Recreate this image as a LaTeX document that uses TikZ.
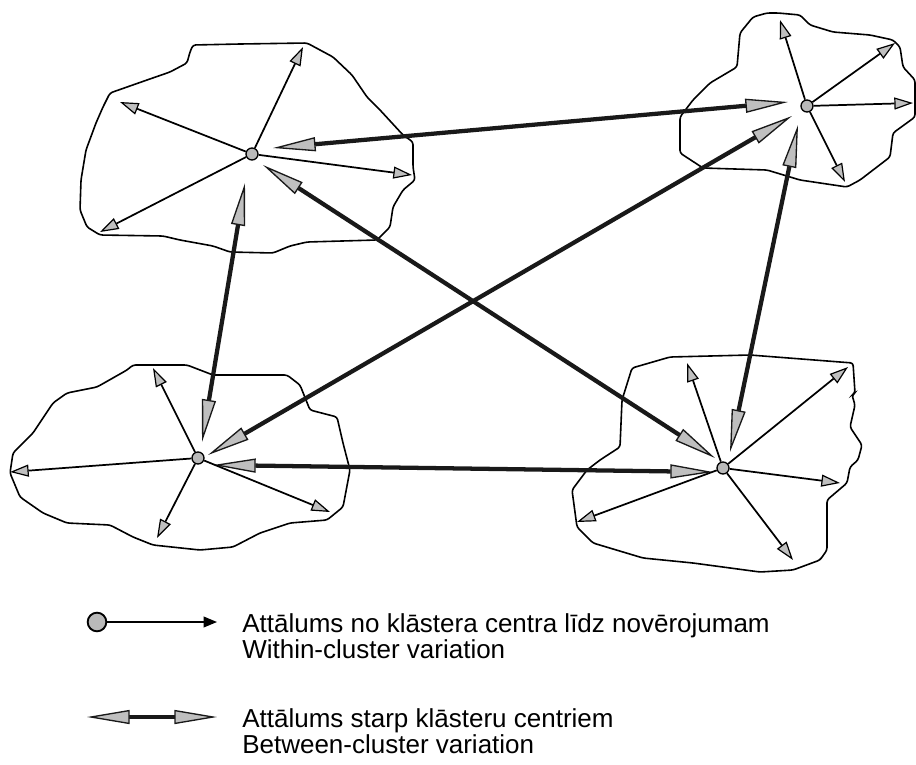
\documentclass[tikz,border=0pt]{standalone}
\usepackage{fontspec}
\setmainfont{Liberation Sans}
\usetikzlibrary{arrows.meta}
\begin{document}
\begin{tikzpicture}[x=0.75pt,y=-0.75pt,
 blob/.style={draw=black,line width=1.2pt,rounded corners=2pt},
 ctr/.style={circle,draw=black,line width=1pt,fill=gray!55,minimum size=9pt,inner sep=0pt},
 within/.style={draw=black,line width=1.3pt,-{Triangle[length=14pt,width=9pt,fill=gray!50,line width=0.9pt]}},
 between/.style={draw=black!90,line width=3.2pt,{Triangle[length=32pt,width=10.5pt,fill=gray!50,line width=1pt]}-{Triangle[length=32pt,width=10.5pt,fill=gray!50,line width=1pt]}},
 lbl/.style={anchor=base west,inner sep=0pt,font=\fontsize{19.5}{23}\selectfont}
]
\useasboundingbox (0,0) rectangle (916,764);

% cluster outlines
\draw[blob] (193,45) -- (240,44) -- (307,43) -- (333,57) -- (352,75) -- (367,97) -- (380,110) -- (403,135) -- (413,142) -- (413,167) -- (415,180) -- (403,190) -- (393,207) -- (390,227) -- (377,240) -- (307,242) -- (290,246) -- (273,253) -- (230,252) -- (213,246) -- (180,240) -- (163,236) -- (100,235) -- (87,227) -- (80,210) -- (81,180) -- (86,150) -- (96,123) -- (103,107) -- (110,93) -- (147,80) -- (170,72) -- (187,63) -- (190,52) -- cycle;

\draw[blob] (767,13) -- (778,13) -- (800,15) -- (810,25) -- (833,32) -- (870,35) -- (893,40) -- (900,47) -- (903,67) -- (915,80) -- (915,117) -- (893,133) -- (890,157) -- (860,180) -- (847,187) -- (800,180) -- (767,170) -- (703,168) -- (680,153) -- (680,117) -- (693,100) -- (710,83) -- (737,67) -- (740,33) -- (753,17) -- cycle;

\draw[blob] (133,365) -- (187,365) -- (213,375) -- (287,375) -- (300,385) -- (310,410) -- (337,417) -- (343,443) -- (350,470) -- (343,507) -- (327,520) -- (290,523) -- (260,533) -- (233,547) -- (200,550) -- (153,545) -- (133,537) -- (110,525) -- (67,523) -- (43,513) -- (20,497) -- (10,473) -- (13,453) -- (33,433) -- (53,403) -- (67,393) -- (97,387) -- (127,370) -- cycle;

\draw[blob] (632,368) -- (670,357) -- (750,355) -- (853,363) -- (855,393) -- (852,395) -- (855,405) -- (850,427) -- (862,445) -- (858,460) -- (850,467) -- (847,483) -- (827,500) -- (827,550) -- (820,560) -- (793,570) -- (760,572) -- (693,563) -- (643,558) -- (593,543) -- (577,527) -- (572,490) -- (587,470) -- (600,460) -- (620,447) -- (622,400) -- cycle;

% centres
\node[ctr] (c1) at (252,154) {};
\node[ctr] (c2) at (807,106) {};
\node[ctr] (c3) at (198,458) {};
\node[ctr] (c4) at (723,468) {};

% between-arrow tips
\coordinate (b12) at (273,148);  \coordinate (b21) at (788,102);
\coordinate (b13) at (245,183);  \coordinate (b31) at (202,442);
\coordinate (b14) at (263,165);  \coordinate (b41) at (715,458);
\coordinate (b23) at (792,116);  \coordinate (b32) at (208,455);
\coordinate (b24) at (798,125);  \coordinate (b42) at (730,452);
\coordinate (b34) at (213,465);  \coordinate (b43) at (713,472);

\draw[between] (b12) -- (b21);
\draw[between] (b13) -- (b31);
\draw[between] (b14) -- (b41);
\draw[between] (b23) -- (b32);
\draw[between] (b24) -- (b42);
\draw[between] (b34) -- (b43);

% within-arrow ends
\coordinate (w1a) at (303,47);  \coordinate (w1b) at (120,102);
\coordinate (w1c) at (412,175); \coordinate (w1d) at (100,232);
\coordinate (w2a) at (780,20);  \coordinate (w2b) at (895,43);
\coordinate (w2c) at (913,103); \coordinate (w2d) at (845,182);
\coordinate (w3a) at (153,368); \coordinate (w3b) at (10,472);
\coordinate (w3c) at (157,538); \coordinate (w3d) at (330,512);
\coordinate (w4a) at (687,363); \coordinate (w4b) at (848,367);
\coordinate (w4c) at (840,483); \coordinate (w4d) at (793,560);
\coordinate (w4e) at (577,522);

\foreach \c/\w in {c1/w1a,c1/w1b,c1/w1c,c1/w1d,c2/w2a,c2/w2b,c2/w2c,c2/w2d,c3/w3a,c3/w3b,c3/w3c,c3/w3d,c4/w4a,c4/w4b,c4/w4c,c4/w4d,c4/w4e}
  \draw[within] (\c) -- (\w);

% legend
\node[ctr,minimum size=14pt,line width=1.4pt] (lc) at (97,622) {};
\coordinate (la) at (217,622);
\draw[line width=1.2pt,-{Triangle[length=10pt,width=8pt]}] (lc) -- (la);
\coordinate (ld1) at (87,717);
\coordinate (ld2) at (217,717);
\draw[between] (ld1) -- (ld2);

\node[lbl] (t1) at (242,632) {Attālums no klāstera centra līdz novērojumam};
\node[lbl] (t2) at (242,658) {Within-cluster variation};
\node[lbl] (t3) at (242,727) {Attālums starp klāsteru centriem};
\node[lbl] (t4) at (242,753) {Between-cluster variation};
\end{tikzpicture}
\end{document}
